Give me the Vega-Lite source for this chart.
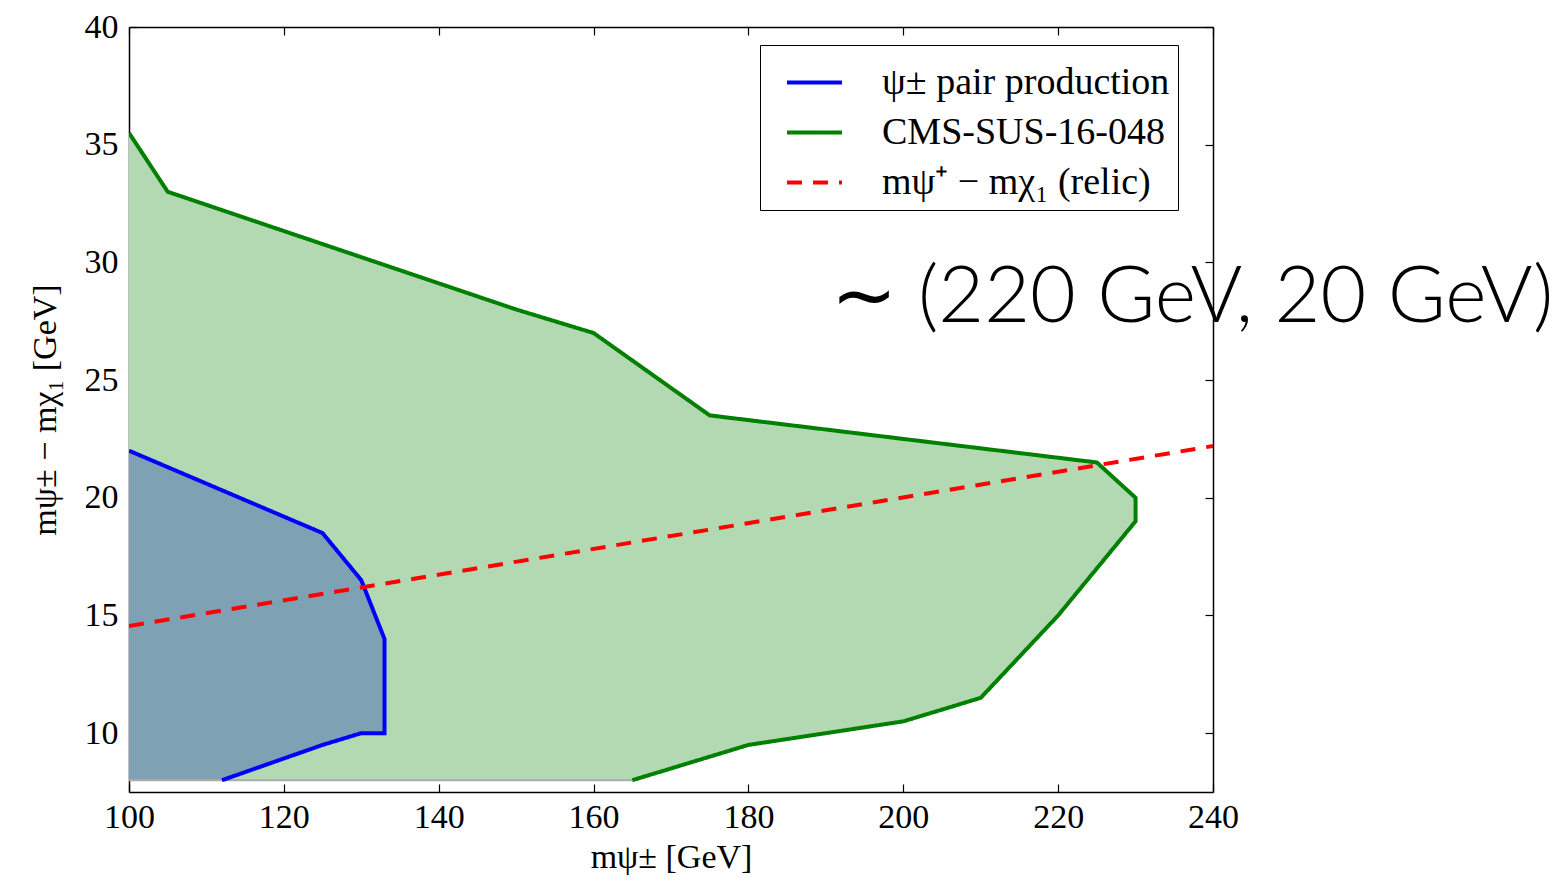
{
  "$schema": "https://vega.github.io/schema/vega-lite/v6.json",
  "autosize": {"type": "none"},
  "padding": {"left": 129, "top": 27, "right": 351, "bottom": 92},
  "width": 1084,
  "height": 765,
  "background": "white",
  "config": {
    "view": {"stroke": null},
    "font": "Liberation Serif",
    "axis": {"grid": false, "domainColor": "black", "domainWidth": 1.5, "tickColor": "black", "tickWidth": 1.2, "tickSize": -8, "labelFlush": false, "labelFont": "Liberation Serif", "labelFontSize": 34, "labelColor": "black", "titleFont": "Liberation Serif", "titleFontSize": 34, "titleFontWeight": "normal", "titleColor": "black"},
    "legend": {"orient": "none", "legendX": 631, "legendY": 18, "strokeColor": "black", "fillColor": "white", "padding": 8, "symbolOffset": 17, "symbolType": "stroke", "symbolSize": 3025, "symbolStrokeWidth": 4, "labelFont": "Liberation Serif", "labelFontSize": 38, "labelColor": "black", "labelLimit": 600, "rowPadding": 1, "labelOffset": 38, "title": null}
  },
  "datasets": {
    "cms": [
      {"x": 165, "y": 8, "o": 1},
      {"x": 180, "y": 9.5, "o": 2},
      {"x": 200, "y": 10.5, "o": 3},
      {"x": 210, "y": 11.5, "o": 4},
      {"x": 220, "y": 15, "o": 5},
      {"x": 230, "y": 19, "o": 6},
      {"x": 230, "y": 20, "o": 7},
      {"x": 225, "y": 21.5, "o": 8},
      {"x": 175, "y": 23.5, "o": 9},
      {"x": 160, "y": 27, "o": 10},
      {"x": 150, "y": 28, "o": 11},
      {"x": 105, "y": 33, "o": 12},
      {"x": 100, "y": 35.5, "o": 13},
      {"x": 100, "y": 8, "o": 14, "c": true}
    ],
    "psi": [
      {"x": 112, "y": 8, "o": 1},
      {"x": 125, "y": 9.5, "o": 2},
      {"x": 130, "y": 10, "o": 3},
      {"x": 133, "y": 10, "o": 4},
      {"x": 133, "y": 14, "o": 5},
      {"x": 130, "y": 16.5, "o": 6},
      {"x": 125, "y": 18.5, "o": 7},
      {"x": 100, "y": 22, "o": 8},
      {"x": 100, "y": 8, "o": 9, "c": true}
    ],
    "relic": [
      {"x": 100, "y": 14.55},
      {"x": 240, "y": 22.2}
    ],
    "base": [
      {"x": 100, "y": 8},
      {"x": 165, "y": 8}
    ],
    "note": [
      {"x": 190.6, "y": 28.5, "t": "∼ (220 GeV, 20 GeV)"}
    ]
  },
  "resolve": {"axis": {"x": "independent", "y": "independent"}},
  "layer": [
    {
      "data": {"name": "cms"},
      "mark": {"type": "line", "fill": "#b3d9b3", "strokeOpacity": 0, "clip": true},
      "encoding": {
        "x": {"field": "x", "type": "quantitative", "scale": {"domain": [100, 240], "nice": false, "zero": false}, "axis": {"orient": "bottom", "values": [100, 120, 140, 160, 180, 200, 220, 240], "labelPadding": 16, "title": "mψ± [GeV]", "titlePadding": 6}},
        "y": {"field": "y", "type": "quantitative", "scale": {"domain": [7.5, 40], "nice": false, "zero": false}, "axis": {"orient": "left", "values": [10, 15, 20, 25, 30, 35, 40], "labelPadding": 19, "title": "mψ± − mχ₁ [GeV]", "titlePadding": 22}},
        "order": {"field": "o", "type": "quantitative"}
      }
    },
    {
      "data": {"name": "psi"},
      "mark": {"type": "line", "fill": "#7ea2b3", "strokeOpacity": 0, "clip": true},
      "encoding": {
        "x": {"field": "x", "type": "quantitative", "axis": null},
        "y": {"field": "y", "type": "quantitative", "axis": null},
        "order": {"field": "o", "type": "quantitative"}
      }
    },
    {
      "data": {"name": "base"},
      "mark": {"type": "line", "stroke": "#aaaaaa", "strokeWidth": 2},
      "encoding": {
        "x": {"field": "x", "type": "quantitative", "axis": null},
        "y": {"field": "y", "type": "quantitative", "axis": null}
      }
    },
    {
      "data": {"name": "psi"},
      "transform": [{"filter": "!datum.c"}, {"calculate": "'ψ± pair production'", "as": "s"}],
      "mark": {"type": "line", "strokeWidth": 4, "clip": true},
      "encoding": {
        "x": {"field": "x", "type": "quantitative", "axis": null},
        "y": {"field": "y", "type": "quantitative", "axis": null},
        "order": {"field": "o", "type": "quantitative"},
        "color": {"field": "s", "type": "nominal", "scale": {"domain": ["ψ± pair production", "CMS-SUS-16-048", "mψ⁺ − mχ₁ (relic)"], "range": ["#0000ff", "#008000", "#ff0000"]}},
        "strokeDash": {"field": "s", "type": "nominal", "scale": {"domain": ["ψ± pair production", "CMS-SUS-16-048", "mψ⁺ − mχ₁ (relic)"], "range": [[1, 0], [1, 0], [15, 11]]}}
      }
    },
    {
      "data": {"name": "cms"},
      "transform": [{"filter": "!datum.c"}, {"calculate": "'CMS-SUS-16-048'", "as": "s"}],
      "mark": {"type": "line", "strokeWidth": 4, "clip": true},
      "encoding": {
        "x": {"field": "x", "type": "quantitative", "axis": null},
        "y": {"field": "y", "type": "quantitative", "axis": null},
        "order": {"field": "o", "type": "quantitative"},
        "color": {"field": "s", "type": "nominal"},
        "strokeDash": {"field": "s", "type": "nominal"}
      }
    },
    {
      "data": {"name": "relic"},
      "transform": [{"calculate": "'mψ⁺ − mχ₁ (relic)'", "as": "s"}],
      "mark": {"type": "line", "strokeWidth": 4, "clip": true},
      "encoding": {
        "x": {"field": "x", "type": "quantitative", "axis": {"orient": "top", "values": [100, 120, 140, 160, 180, 200, 220, 240], "labels": false, "title": null}},
        "y": {"field": "y", "type": "quantitative", "axis": {"orient": "right", "values": [10, 15, 20, 25, 30, 35, 40], "labels": false, "title": null}},
        "color": {"field": "s", "type": "nominal"},
        "strokeDash": {"field": "s", "type": "nominal"}
      }
    },
    {
      "data": {"name": "note"},
      "mark": {"type": "text", "font": "Lato", "fontSize": 79, "fontWeight": 300, "align": "left", "baseline": "middle", "color": "black"},
      "encoding": {
        "x": {"field": "x", "type": "quantitative", "axis": null},
        "y": {"field": "y", "type": "quantitative", "axis": null},
        "text": {"field": "t"}
      }
    }
  ]
}
